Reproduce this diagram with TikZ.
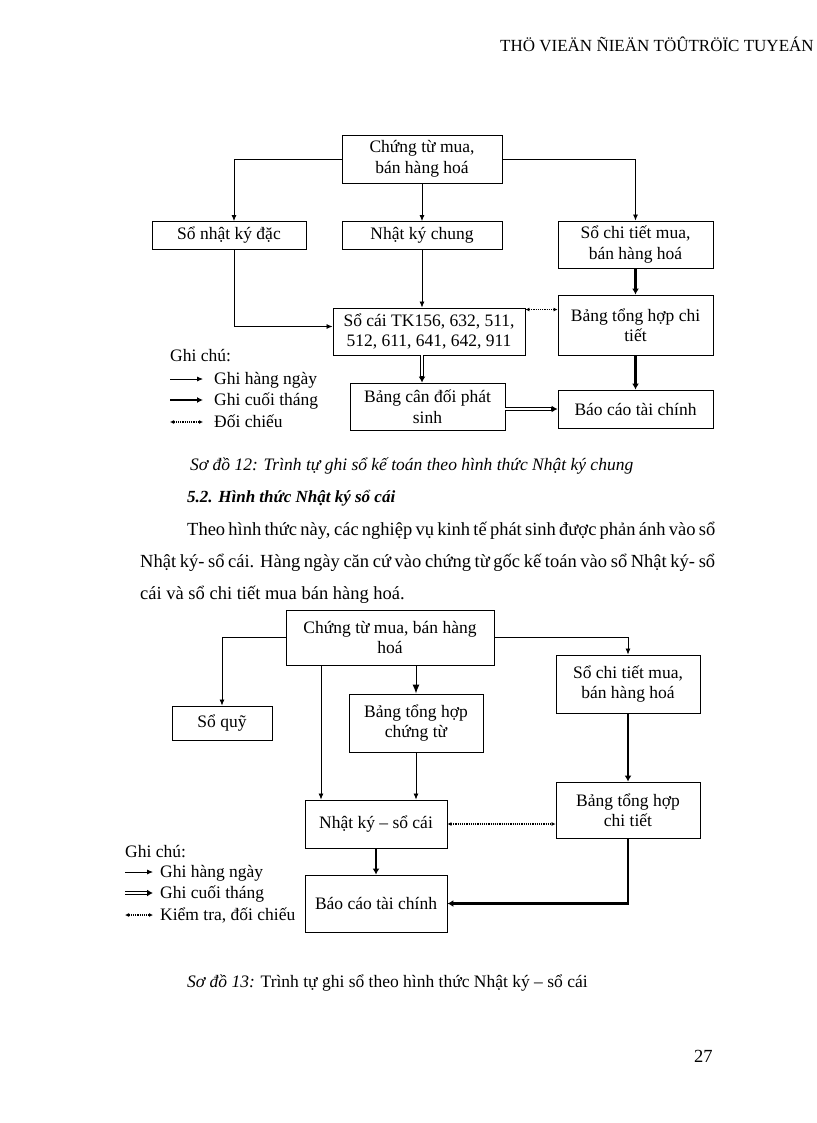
\documentclass[tikz,border=0pt]{standalone}
\usepackage{fontspec}
\setmainfont{Liberation Serif}
\usetikzlibrary{arrows.meta,calc}
\begin{document}
\begin{tikzpicture}[x=1pt,y=-1pt,
 every node/.style={font=\fontsize{17.5}{20.5}\selectfont, inner sep=0pt},
 box/.style={draw, line width=0.9pt, align=center, fill=white},
 thinar/.style={line width=0.8pt, -{Latex[length=6pt,width=5pt]}},
 thinbig/.style={line width=1pt, -{Latex[length=9pt,width=7pt]}},
 thickar/.style={line width=2.6pt, -{Latex[length=6pt,width=7pt]}},
 dblar/.style={line width=3.2pt, -{Latex[length=6pt,width=7pt]},
   postaction={draw=white, line width=1.3pt, arrows=-, shorten >=6.5pt}},
 dotar/.style={line width=1.2pt, densely dotted, {Latex[length=4pt,width=4pt]}-{Latex[length=4pt,width=4pt]}},
 txt/.style={anchor=base west},
 bodyf/.style={font=\fontsize{18.5}{22}\selectfont}]
\useasboundingbox (0,0) rectangle (816,1123);
% header
\node[txt, font=\fontsize{17}{20}\selectfont] (hdr) at (500,52) {THÖ VIEÄN ÑIEÄN TÖÛTRÖÏC TUYEÁN};
% ---------- top diagram ----------
\node[box, minimum width=160pt, minimum height=48pt] (A) at (422,159) {Chứng từ mua,\\bán hàng hoá};
\node[box, minimum width=154pt, minimum height=28pt] (B) at (229,235.5) {Sổ nhật ký đặc};
\node[box, minimum width=160pt, minimum height=28pt] (C) at (422,235.5) {Nhật ký chung};
\node[box, minimum width=155pt, minimum height=47pt] (D) at (635.5,244.5) {Sổ chi tiết mua,\\bán hàng hoá};
\node[box, minimum width=192pt, minimum height=47pt] (E) at (429,331.5) {Sổ cái TK156, 632, 511,\\512, 611, 641, 642, 911};
\node[box, minimum width=155pt, minimum height=60pt] (F) at (635.5,325) {Bảng tổng hợp chi\\tiết};
\node[box, minimum width=155pt, minimum height=47pt] (G) at (427.5,406.5) {Bảng cân đối phát\\sinh};
\node[box, minimum width=155pt, minimum height=38pt] (H) at (635.5,409) {Báo cáo tài chính};
\draw[thinar] (A.west) -| ([xshift=5pt]B.north);
\draw[thinar] (A.south) -- (C.north);
\draw[thinar] (A.east) -| (D.north);
\draw[thinar] ([xshift=5pt]B.south) |- ([yshift=5pt]E.west);
\draw[thinar] (C.south) -- (C.south |- E.north);
\draw[thickar] (D.south) -- (F.north);
\draw[thickar] (F.south) -- (H.north);
\coordinate (eg) at (E.south -| C.south);
\draw[dblar] (eg) -- (eg |- G.north);
\draw[dblar] (G.east |- H.west) -- (H.west);
\coordinate (d1) at ([yshift=-2pt]E.north east);
\draw[dotar] (d1) -- (d1 -| F.west);
% legend top
\node[txt] (gc1) at (170,361) {Ghi chú:};
\coordinate (l1a) at (170,379); \coordinate (l1b) at (203,379);
\coordinate (l2a) at (170,400); \coordinate (l2b) at (203,400);
\coordinate (l3a) at (170,422); \coordinate (l3b) at (203,422);
\draw[thinar] (l1a) -- (l1b);
\draw[line width=2.4pt, -{Latex[length=6pt,width=6pt]}] (l2a) -- (l2b);
\draw[dotar] (l3a) -- (l3b);
\node[txt] (lt1) at (214,384) {Ghi hàng ngày};
\node[txt] (lt2) at (214,405) {Ghi cuối tháng};
\node[txt] (lt3) at (214,427) {Đối chiếu};
% texts
\node[txt] (cap12) at (190,470) {\itshape Sơ đồ 12: Trình tự ghi sổ kế toán theo hình thức Nhật ký chung};
\node[txt, font=\fontsize{17}{20}\selectfont] (head) at (187,502) {\bfseries\itshape 5.2. Hình thức Nhật ký sổ cái};
\node[txt, bodyf] (p1) at (187,535) {\makebox[528pt][s]{Theo hình thức này, các nghiệp vụ kinh tế phát sinh được phản ánh vào sổ}};
\node[txt, bodyf] (p2) at (140,567) {\makebox[575pt][s]{Nhật ký- sổ cái. Hàng ngày căn cứ vào chứng từ gốc kế toán vào sổ Nhật ký- sổ}};
\node[txt, bodyf] (p3) at (140,599) {cái và sổ chi tiết mua bán hàng hoá.};
% ---------- bottom diagram ----------
\node[box, minimum width=208pt, minimum height=55pt] (A2) at (390,637.5) {Chứng từ mua, bán hàng\\hoá};
\node[box, minimum width=100pt, minimum height=34pt] (B2) at (222,723) {Sổ quỹ};
\node[box, minimum width=134pt, minimum height=58pt] (C2) at (416,723) {Bảng tổng hợp\\chứng từ};
\node[box, minimum width=144pt, minimum height=58pt] (D2) at (628,684) {Sổ chi tiết mua,\\bán hàng hoá};
\node[box, minimum width=142pt, minimum height=48pt] (E2) at (376,824) {Nhật ký – sổ cái};
\node[box, minimum width=144pt, minimum height=56pt] (F2) at (628,810) {Bảng tổng hợp\\chi tiết};
\node[box, minimum width=142pt, minimum height=57pt] (G2) at (376,903.5) {Báo cáo tài chính};
\draw[thinar] (A2.west) -| (B2.north);
\draw[thinar] (A2.east) -| (D2.north);
\coordinate (a2l) at ([xshift=-69pt]A2.south);
\draw[thinar] (a2l) -- (a2l |- E2.north);
\draw[thinbig] (A2.south -| C2.north) -- (C2.north);
\draw[thinar] (C2.south) -- (C2.south |- E2.north);
\draw[thickar] (D2.south) -- (F2.north);
\draw[dotar] (E2.east) -- (E2.east -| F2.west);
\draw[thickar] (E2.south) -- (G2.north);
\draw[thickar] (F2.south) |- (G2.east);
% legend bottom
\node[txt] (gc2) at (125,857) {Ghi chú:};
\coordinate (m1a) at (125,872); \coordinate (m1b) at (153,872);
\coordinate (m2a) at (125,893); \coordinate (m2b) at (153,893);
\coordinate (m3a) at (125,915); \coordinate (m3b) at (153,915);
\draw[thinar] (m1a) -- (m1b);
\draw[dblar] (m2a) -- (m2b);
\draw[dotar] (m3a) -- (m3b);
\node[txt] (mt1) at (160,877) {Ghi hàng ngày};
\node[txt] (mt2) at (160,898) {Ghi cuối tháng};
\node[txt] (mt3) at (160,920) {Kiểm tra, đối chiếu};
% caption 13 and page number
\node[txt] (cap13) at (187,987) {\textit{Sơ đồ 13:} Trình tự ghi sổ theo hình thức Nhật ký – sổ cái};
\node[txt, bodyf] (pg) at (694,1062) {27};
\end{tikzpicture}
\end{document}
